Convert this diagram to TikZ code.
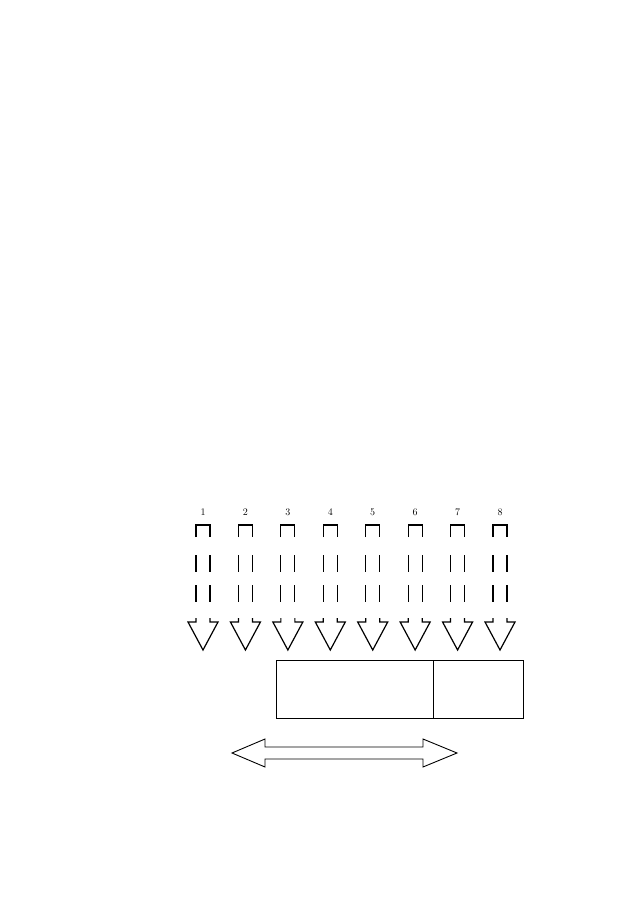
\documentclass[tikz,border=0pt]{standalone}
\begin{document}
\begin{tikzpicture}[x=1pt,y=-1pt,line width=1.2pt,
	numlabel/.style={font=\normalsize,inner sep=1pt},
	cell/.style={draw,rectangle,line width=0.8pt,minimum height=58pt,inner sep=0pt,outer sep=0pt,anchor=north west}]
	\useasboundingbox (0,0) rectangle (642,902);
	% eight dashed block arrows
	\foreach \i in {1,...,8} {
		\pgfmathsetmacro{\cx}{203+42.43*(\i-1)}
		\node [numlabel] (l\i) at (\cx,512) {\i};
		\draw (\cx-7,537) -- (\cx-7,525) -- (\cx+7,525) -- (\cx+7,537);
		\draw [dash pattern=on 17pt off 13pt] (\cx-7,555) -- (\cx-7,602) (\cx+7,555) -- (\cx+7,602);
		\draw (\cx-7,618) -- (\cx-7,622) -- (\cx-15,622) -- (\cx,650) -- (\cx+15,622) -- (\cx+7,622) -- (\cx+7,618);
	}
	\node [cell,minimum width=157pt] (main) at (276,660) {};
	\node [cell,minimum width=90pt] (side) at (main.north east) {};
	% double arrow
	\draw [line width=0.9pt] (232,753) -- (265,739) -- (265,747) -- (423,747) -- (423,739) -- (457,753)
		-- (423,767) -- (423,759) -- (265,759) -- (265,767) -- cycle;
\end{tikzpicture}
\end{document}
